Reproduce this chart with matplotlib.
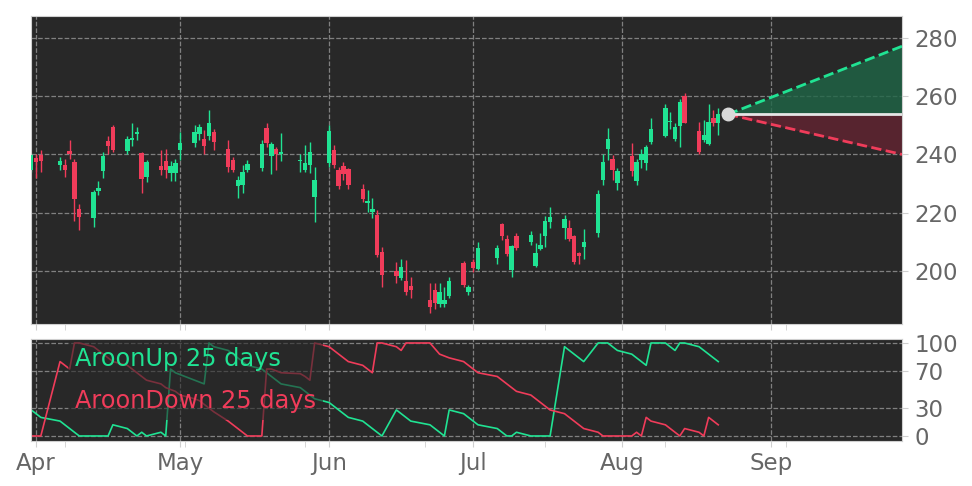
import numpy as np
import pandas as pd
import matplotlib
matplotlib.use("Agg")
import matplotlib.pyplot as plt
import matplotlib.dates as mdates

# trading days (2026 calendar, market holidays removed)
holidays = ["2026-04-03", "2026-05-25", "2026-06-19", "2026-07-03"]
dates = pd.bdate_range("2026-03-31", "2026-08-21")
dates = dates[~dates.isin(pd.to_datetime(holidays))]

opens = [234.6, 238.7, 239.8,
         236.3, 236.3, 241.2, 237.5, 221.4,
         218.0, 227.5, 234.3, 244.6, 249.3,
         241.1, 244.9, 247.0, 240.5, 232.1,
         236.0, 237.8, 233.7, 233.7, 241.5,
         244.0, 247.0, 245.2, 246.3, 247.6,
         241.7, 238.0, 229.1, 229.4, 234.6,
         235.5, 249.1, 239.5, 241.8, 240.3,
         237.7, 234.8, 236.3, 225.4,
         236.9, 241.5, 234.8, 236.1, 235.0,
         228.1, 223.4, 220.3, 219.1, 206.5,
         200.0, 197.4, 196.5, 194.7,
         189.9, 193.4, 188.6, 188.6, 191.3,
         202.7, 192.8, 203.0, 200.6,
         204.5, 216.0, 211.1, 200.2, 211.9,
         209.8, 201.6, 207.5, 212.0, 216.8,
         214.8, 214.6, 211.9, 206.0, 208.2,
         213.0, 231.2, 241.7, 238.3, 230.2,
         239.4, 230.9, 238.0, 237.1, 244.3,
         246.3, 251.0, 245.2, 249.7, 260.0,
         248.1, 244.9, 243.5, 252.4, 250.7]
highs = [240.4, 240.0, 241.5,
         239.0, 238.6, 244.9, 238.3, 223.0,
         227.7, 230.8, 240.7, 246.3, 250.0,
         246.3, 250.7, 249.5, 241.0, 238.0,
         241.5, 241.7, 237.8, 238.5, 247.6,
         250.0, 250.4, 248.3, 255.2, 248.6,
         244.9, 239.2, 232.5, 236.3, 238.0,
         245.0, 250.9, 244.3, 242.6, 247.2,
         240.3, 243.2, 244.3, 235.7,
         250.0, 243.2, 235.7, 237.5, 235.4,
         230.0, 227.7, 224.9, 220.9, 208.2,
         203.1, 203.9, 203.7, 198.0,
         195.9, 195.7, 195.7, 194.5, 198.0,
         203.5, 195.0, 204.0, 210.0,
         208.8, 216.3, 212.3, 208.8, 213.0,
         213.7, 209.6, 212.9, 218.8, 222.0,
         219.1, 217.4, 212.3, 206.5, 214.2,
         227.7, 240.1, 249.0, 239.8, 235.2,
         243.8, 238.3, 242.0, 243.2, 252.7,
         257.3, 254.6, 250.7, 259.2, 261.0,
         251.2, 251.8, 257.5, 255.2, 255.8]
lows = [234.0, 232.0, 234.0,
        234.6, 232.3, 238.6, 217.0, 214.0,
        215.0, 226.0, 232.0, 240.3, 240.9,
        240.3, 243.0, 245.0, 226.8, 230.6,
        233.0, 232.0, 231.0, 231.0, 238.0,
        242.6, 245.0, 240.3, 245.0, 241.5,
        234.0, 234.0, 224.9, 226.6, 234.0,
        234.4, 242.6, 233.2, 234.6, 237.8,
        234.0, 234.0, 233.5, 216.8,
        235.7, 235.5, 228.0, 231.2, 228.0,
        223.7, 220.3, 218.0, 204.8, 194.5,
        195.7, 196.8, 191.6, 190.5,
        185.4, 187.0, 187.6, 187.6, 190.5,
        194.5, 191.6, 199.5, 200.2,
        202.3, 210.5, 205.0, 198.0, 207.1,
        208.8, 201.2, 207.1, 208.2, 214.6,
        211.1, 210.3, 202.5, 202.3, 204.0,
        211.7, 229.5, 238.0, 231.2, 227.7,
        232.5, 229.5, 235.2, 234.8, 243.5,
        246.0, 248.6, 244.7, 242.6, 250.7,
        240.3, 244.3, 243.2, 249.7, 246.6]
closes = [239.8, 237.3, 237.7,
          237.8, 234.6, 240.3, 224.6, 218.4,
          227.1, 228.5, 239.5, 243.0, 241.5,
          245.2, 245.6, 247.7, 231.5, 237.5,
          234.6, 234.6, 236.0, 237.1, 244.1,
          247.6, 249.3, 242.9, 250.9, 244.3,
          235.7, 234.6, 231.2, 234.0, 236.7,
          243.5, 244.0, 243.5, 240.1, 240.7,
          238.0, 237.1, 240.7, 231.2,
          248.0, 236.3, 229.2, 233.2, 229.5,
          224.6, 224.1, 221.2, 205.4, 198.5,
          198.2, 201.4, 192.6, 193.4,
          187.6, 188.8, 192.8, 189.9, 196.6,
          195.1, 194.5, 201.0, 207.7,
          207.7, 212.0, 205.7, 208.5, 208.0,
          212.3, 206.2, 208.8, 217.2, 218.4,
          217.7, 210.9, 203.1, 205.2, 210.0,
          226.4, 237.5, 245.2, 234.6, 234.4,
          234.4, 237.5, 240.1, 242.6, 248.9,
          255.8, 251.4, 249.5, 258.1, 250.9,
          240.9, 246.6, 251.2, 250.7, 253.8]

aroon_up = [28, 24, 20,
            16, 12, 8, 4, 0,
            0, 0, 0, 0, 12,
            8, 4, 0, 4, 0,
            4, 0, 72, 68, 66,
            60, 58, 56, 100, 96,
            92, 88, 84, 80, 76,
            72, 68, 64, 60, 56,
            52, 48, 44, 40,
            36, 32, 28, 24, 20,
            16, 12, 8, 4, 0,
            28, 24, 20, 16,
            12, 8, 4, 0, 28,
            24, 20, 16, 12,
            8, 4, 0, 0, 4,
            0, 0, 0, 0, 0,
            96, 92, 88, 84, 80,
            100, 100, 100, 96, 92,
            88, 84, 80, 76, 100,
            100, 96, 92, 100, 100,
            96, 92, 88, 84, 80]
aroon_down = [0, 0, 0,
              80, 76, 72, 100, 100,
              96, 92, 88, 84, 80,
              76, 72, 68, 64, 60,
              56, 52, 50, 48, 44,
              40, 38, 34, 30, 26,
              16, 12, 8, 4, 0,
              0, 72, 72, 70, 68,
              67, 64, 60, 100,
              96, 92, 88, 84, 80,
              76, 72, 68, 100, 100,
              96, 92, 100, 100,
              100, 94, 88, 86, 84,
              80, 76, 72, 68,
              64, 60, 56, 52, 48,
              44, 40, 36, 32, 28,
              24, 20, 16, 12, 8,
              4, 0, 0, 0, 0,
              0, 4, 0, 20, 16,
              12, 8, 4, 0, 8,
              4, 0, 20, 16, 12]

forecast_date = "2026-08-23"
forecast_end = "2026-09-28T06:00"
forecast_high = 277.2
forecast_low = 240.0

up_color = "#20e393"
down_color = "#f03c5a"
bg = "#282828"
grid_kw = dict(color="#8a8a8a", linestyle="--", linewidth=0.9, alpha=0.9)

x = mdates.date2num(dates)
o = np.array(opens); h = np.array(highs); l = np.array(lows); c = np.array(closes)

fig = plt.figure(figsize=(9.72, 4.86), dpi=100)
ax = fig.add_axes([0.0319, 0.3333, 0.8961, 0.6338])
ax2 = fig.add_axes([0.0319, 0.0926, 0.8961, 0.2099], sharex=ax)

for a in (ax, ax2):
    a.set_facecolor(bg)
    for s in a.spines.values():
        s.set_color("#cfcfcf")
    a.yaxis.tick_right()
    a.tick_params(colors="#cfcfcf", labelcolor="#666666", labelsize=16.5,
                  length=4, direction="out", which="both")
    a.tick_params(axis="y", pad=5)
    a.grid(True, which="major", **grid_kw)
    a.set_axisbelow(True)

# candles
cols = np.where(c >= o, up_color, down_color)
ax.vlines(x, l, h, colors=cols, linewidth=1.0, zorder=2)
body_h = np.maximum(np.abs(c - o), 0.35)
ax.bar(x, body_h, bottom=np.minimum(o, c), width=0.92, color=cols,
       linewidth=0, zorder=3)

# forecast cone
fx = mdates.date2num([pd.Timestamp(forecast_date), pd.Timestamp(forecast_end)])
last = closes[-1]
ax.fill_between(fx, [last, last], [last, forecast_high], color="#1f6647", alpha=0.8, linewidth=0, zorder=2)
ax.fill_between(fx, [last, last], [last, forecast_low], color="#632431", alpha=0.8, linewidth=0, zorder=2)
ax.plot(fx, [last, forecast_high], color=up_color, linestyle="--", linewidth=2, zorder=4)
ax.plot(fx, [last, forecast_low], color=down_color, linestyle="--", linewidth=2, zorder=4)
ax.plot(fx, [last, last], color="#e6e6e6", linewidth=2, zorder=4)
ax.plot(fx[0], last, "o", color="#d9d9d9", markersize=9, zorder=5)

ax.set_ylim(181.7, 287.6)
ax.set_yticks([200, 220, 240, 260, 280])
ax.tick_params(axis="x", labelbottom=False)

# aroon panel
ax2.plot(x, aroon_up, color=up_color, linewidth=1.2, label="AroonUp 25 days")
ax2.plot(x, aroon_down, color=down_color, linewidth=1.2, label="AroonDown 25 days")
ax2.set_ylim(-5.4, 104.3)
ax2.set_yticks([0, 30, 70, 100])
leg = ax2.legend(loc="upper left", bbox_to_anchor=(0.042, 0.99), borderaxespad=0,
                 handlelength=0, handletextpad=0, fontsize=17.3, labelspacing=0.75,
                 frameon=True, facecolor=bg, edgecolor="none", framealpha=0.6,
                 labelcolor=[up_color, down_color], borderpad=0.3)
for hd in leg.legend_handles:
    hd.set_visible(False)

months = pd.to_datetime(["2026-04-01", "2026-05-01", "2026-06-01", "2026-07-01", "2026-08-01", "2026-09-01"])
minor = pd.to_datetime(["2026-04-07", "2026-05-02", "2026-05-27", "2026-06-21", "2026-07-16", "2026-08-10", "2026-09-04"])
ax2.set_xticks(mdates.date2num(months))
ax2.set_xticklabels([m.strftime("%b") for m in months])
ax2.set_xticks(mdates.date2num(minor), minor=True)
ax2.tick_params(axis="x", labelsize=16.5, pad=4)
ax2.set_xlim(mdates.date2num(pd.Timestamp("2026-03-30 23:00")), fx[1])

fig.savefig("out.png", dpi=100, facecolor="white")
